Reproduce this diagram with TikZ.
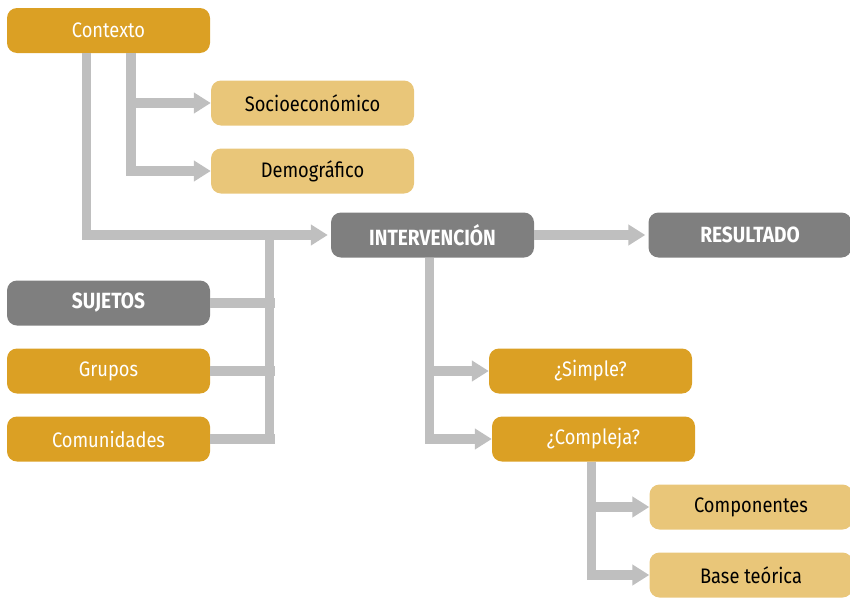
\documentclass[tikz,border=0pt]{standalone}
\usepackage{fontspec}
\setmainfont{Fira Sans}[FakeStretch=0.87]
\usetikzlibrary{arrows.meta}
\definecolor{gold}{HTML}{DBA024}
\definecolor{lgold}{HTML}{E9C679}
\definecolor{dgray}{HTML}{7F7F7F}
\definecolor{lgray}{HTML}{BFBFBF}
\begin{document}
\begin{tikzpicture}[x=1pt,y=-1pt,
 box/.style={rounded corners=10pt, minimum width=203pt, minimum height=45pt, inner sep=0pt, font=\fontsize{21}{24}\selectfont},
 goldbox/.style={box, fill=gold, text=white},
 lightbox/.style={box, fill=lgold, text=black},
 graybox/.style={box, fill=dgray, text=white, font=\fontsize{22}{24}\selectfont\bfseries},
 conn/.style={draw=lgray, line width=9.5pt, line join=miter},
 arr/.style={conn, -{Triangle[length=17pt,width=20pt]}}]
\useasboundingbox (0,0) rectangle (850,597);
\node[goldbox] (ctx) at (108.5,30.5) {Contexto};
\node[lightbox] (soc) at (312.5,103) {Socioeconómico};
\node[lightbox] (demo) at (312.5,171) {Demográfico};
\node[graybox] (int) at (432.5,235) {INTERVENCIÓN};
\node[graybox] (res) at (750,235) {RESULTADO};
\node[graybox] (suj) at (108.5,303) {SUJETOS};
\node[goldbox] (grp) at (108.5,371) {Grupos};
\node[goldbox] (com) at (108.5,439) {Comunidades};
\node[goldbox] (simple) at (590.5,371) {¿Simple?};
\node[goldbox] (comp) at (593.5,439) {¿Compleja?};
\node[lightbox] (cmp) at (751,507) {Componentes};
\node[lightbox] (base) at (751,575) {Base teórica};
% connectors
\draw[arr, shorten >=3pt] ([xshift=-22pt]ctx.south) |- (int.west);
\draw[arr] ([xshift=22.5pt]ctx.south) |- (soc.west);
\draw[arr] ([xshift=22.5pt]ctx.south) |- (demo.west);
\coordinate (sv) at (269.5,235);
\draw[conn] (sv) -- ([yshift=-4.5pt]sv |- com.east);
\draw[conn] (suj.east) -- ([xshift=5pt]sv |- suj.east);
\draw[conn] (grp.east) -- ([xshift=5pt]sv |- grp.east);
\draw[conn] (com.east) -- ([xshift=5pt]sv |- com.east);
\draw[arr, shorten >=3pt] (int.east) -- (res.west);
\draw[arr] ([xshift=-3pt]int.south) |- (simple.west);
\draw[arr] ([xshift=-3pt]int.south) |- (comp.west);
\draw[arr] ([xshift=-2pt]comp.south) |- (cmp.west);
\draw[arr] ([xshift=-2pt]comp.south) |- (base.west);
\end{tikzpicture}
\end{document}
